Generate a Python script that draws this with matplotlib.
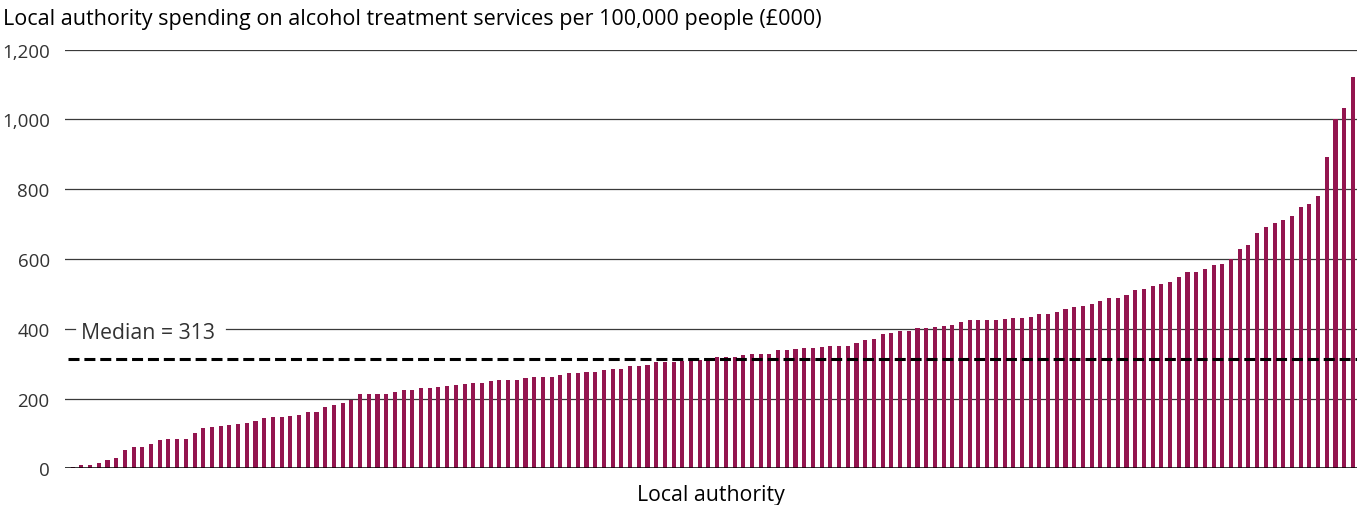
import numpy as np
import matplotlib.pyplot as plt

plt.rcParams['font.family'] = ['Open Sans', 'DejaVu Sans']

# spending per 100,000 people (£000), one value per local authority, sorted
spending = [
    4, 10, 10, 15, 24, 30, 52, 62, 62, 70,
    81, 84, 84, 84, 101, 116, 119, 122, 125, 127,
    130, 135, 144, 147, 147, 150, 152, 161, 161, 175,
    181, 187, 195, 212, 212, 212, 212, 218, 224, 224,
    230, 230, 232, 235, 238, 241, 244, 244, 249, 252,
    252, 252, 258, 261, 261, 261, 267, 272, 272, 275,
    275, 281, 284, 284, 292, 292, 295, 304, 304, 304,
    307, 310, 310, 310, 318, 318, 318, 324, 327, 327,
    327, 338, 338, 341, 344, 344, 347, 350, 350, 352,
    358, 367, 372, 384, 387, 395, 395, 401, 401, 404,
    407, 412, 418, 424, 424, 424, 424, 427, 430, 430,
    435, 441, 441, 447, 458, 461, 464, 472, 481, 487,
    488, 497, 511, 514, 523, 528, 534, 548, 563, 563,
    571, 583, 586, 600, 629, 640, 674, 692, 703, 712,
    723, 749, 758, 780, 892, 1001, 1033, 1122,
]
median_value = 313
yticks = [0, 200, 400, 600, 800, 1000, 1200]

fig = plt.figure(figsize=(13.57, 5.06), dpi=100)
ax = fig.add_axes([0.0479, 0.0725, 0.952, 0.8273])

x = np.arange(len(spending))
ax.bar(x, spending, width=0.47, color='#93154F', zorder=3)

for t in yticks[1:]:
    if t == 400:
        continue
    ax.axhline(t, color='#3a3a3a', lw=0.9, zorder=1)
ax.axhline(0, color='black', lw=1.1, zorder=4)

# 400 gridline broken by the median label
ax.plot([-0.875, 0.3], [400, 400], color='#3a3a3a', lw=0.9, zorder=1)
ax.plot([17.6, len(spending)], [400, 400], color='#3a3a3a', lw=0.9, zorder=1)
ax.text(1.0, 389, 'Median = 313', fontsize=15.3, color='#333333',
        va='center', ha='left', zorder=5)

ax.plot([-0.5, len(spending) - 0.5], [median_value, median_value],
        color='black', lw=2.2, linestyle=(0, (3.6, 1.6)), zorder=5)

ax.set_xlim(-0.875, len(spending) - 0.55)
ax.set_ylim(0, 1200)
ax.set_yticks(yticks)
ax.set_yticklabels([f'{t:,}' for t in yticks], fontsize=13.5, color='#333333')
ax.tick_params(axis='y', length=0, pad=11)
ax.set_xticks([])
for s in ax.spines.values():
    s.set_visible(False)

ax.set_xlabel('Local authority', fontsize=15.3, color='black', labelpad=11)
fig.text(0.002, 0.962, 'Local authority spending on alcohol treatment services per 100,000 people (£000)',
         fontsize=15.5, color='black', ha='left', va='center')

fig.savefig('out.png', dpi=100)
